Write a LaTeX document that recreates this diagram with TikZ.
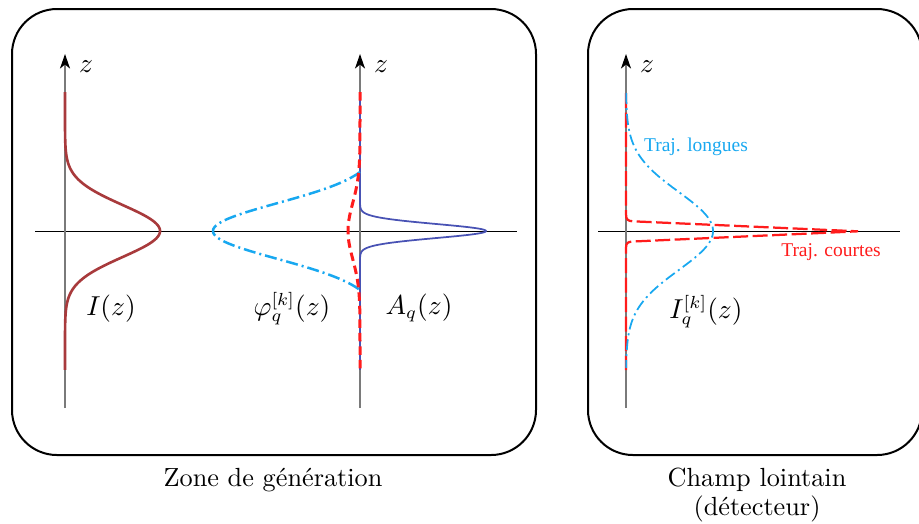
\documentclass[tikz,border=0pt]{standalone}
\usepackage{fontspec}
\newfontfamily\timesf{Liberation Serif}
\usetikzlibrary{arrows.meta}
\definecolor{ibrown}{HTML}{A83A3C}
\definecolor{ablue}{HTML}{4852B4}
\definecolor{cyanc}{HTML}{18A8F0}
\definecolor{redc}{HTML}{FF1C1C}
\definecolor{axgray}{HTML}{7A7A7A}
\begin{document}
\begin{tikzpicture}[x=0.4pt,y=-0.4pt,
  box/.style={draw=black,line width=0.8pt,rounded corners=18pt},
  zaxis/.style={draw=axgray,line width=0.6pt,-{Stealth[length=5.8pt,width=4pt,inset=1.6pt,color=black]}},
  haxis/.style={draw=black,line width=0.4pt},
  lbl/.style={font=\fontsize{10.5}{12.6}\selectfont,inner sep=0pt},
  small/.style={font=\timesf\fontsize{7.8}{9}\selectfont,inner sep=0pt},
  icurve/.style={draw=ibrown,line width=1.05pt},
  acurve/.style={draw=ablue,line width=0.7pt},
  rdash/.style={draw=redc,line width=1.2pt,dash pattern=on 3.4pt off 2pt},
  rdashb/.style={draw=redc,line width=0.9pt,dash pattern=on 6pt off 1.8pt},
  cdash/.style={draw=cyanc,line width=1.0pt,dash pattern=on 4.8pt off 1.6pt on 0.8pt off 1.6pt},
  cdashb/.style={draw=cyanc,line width=0.7pt,dash pattern=on 4.4pt off 1.6pt on 0.8pt off 1.6pt}]
\clip (0,0) rectangle (919,523);
\useasboundingbox (0,0) rectangle (919,523);

% boxes
\draw[box] (12,9) rectangle (536,455);
\draw[box] (588,9) rectangle (922,455);

% axes
\draw[haxis] (35,231) -- (517,231);
\draw[haxis] (598,231) -- (900,231);
\draw[zaxis] (65,408) -- (65,54);
\draw[zaxis] (360,408) -- (360,54);
\draw[zaxis] (626,408) -- (626,54);

% I(z)
\draw[icurve] plot[domain=-13.9:13.9,samples=279,variable=\t]
  ({65+95*exp(-(\t)*(\t)/13.52)},{231+10*\t});

% A_q(z)
\draw[acurve] plot[domain=-13.9:13.9,samples=557,variable=\t]
  ({360+126*exp(-(\t)*(\t)/0.98)},{231+10*\t});

% phi
\draw[cdash] plot[domain=-5.9:5.9,samples=119,variable=\t]
  ({360-147*(exp(-(\t)*(\t)/15.68)-0.1086)/0.8914},{231+10*\t});

% red dashed middle
\draw[rdash] plot[domain=-13.9:13.9,samples=279,variable=\t]
  ({360-12*exp(-(\t)*(\t)/15.68)},{231+10*\t});

% far field: short trajectories
\draw[rdashb] (626,93) -- (626,214) .. controls (626,219.5) and (627.5,221) .. (633,221.3)
  -- (858,231.3) -- (633,241.5) .. controls (627.5,241.8) and (626,243) .. (626,248) -- (626,370);

% far field: long trajectories
\draw[cdashb] plot[domain=-13.8:13.7,samples=276,variable=\t]
  ({626+87*exp(-(\t)*(\t)/30.42)},{231+10*\t});

% labels
\node[lbl,anchor=base] (z1) at (86,72) {$z$};
\node[lbl,anchor=base] (z2) at (381,72) {$z$};
\node[lbl,anchor=base] (z3) at (647,72) {$z$};
\node[lbl,anchor=base] (lI) at (111,315) {$I(z)$};
\node[lbl,anchor=base] (lphi) at (292,315) {$\varphi_q^{[k]}(z)$};
\node[lbl,anchor=base] (lA) at (419,314) {$A_q(z)$};
\node[lbl,anchor=base] (lIq) at (706,318) {$I_q^{[k]}(z)$};
\node[small,text=cyanc] (tl) at (696,147) {Traj. longues};
\node[small,text=redc] (tc) at (831,252) {Traj. courtes};
\node[lbl,anchor=base] (zg) at (273,486) {Zone de génération};
\node[lbl,anchor=base] (cl) at (757,486) {Champ lointain};
\node[lbl,anchor=base] (det) at (757,515) {(détecteur)};
\end{tikzpicture}
\end{document}
